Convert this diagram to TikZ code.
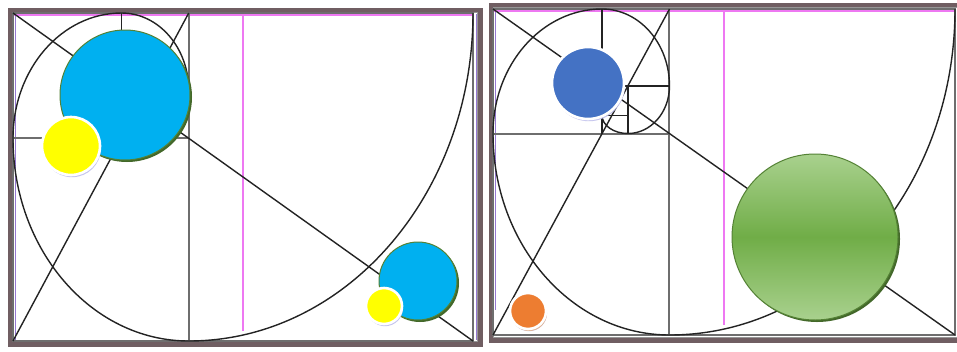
\documentclass[tikz,border=0pt]{standalone}
\usepackage{xcolor}
\usepackage{tikz}
\usetikzlibrary{shadows}

\definecolor{framemauve}{RGB}{112,94,98}
\definecolor{framegray}{RGB}{150,150,150}
\definecolor{guidepink}{RGB}{238,120,242}
\definecolor{guideviolet}{RGB}{150,120,210}
\definecolor{spiralink}{RGB}{35,35,35}
\definecolor{gridgray}{RGB}{110,110,110}
\definecolor{dotcyan}{RGB}{0,176,240}
\definecolor{dotyellow}{RGB}{255,255,0}
\definecolor{dotblue}{RGB}{68,114,196}
\definecolor{dotorange}{RGB}{237,125,49}
\definecolor{dotgreenlight}{RGB}{169,209,142}
\definecolor{dotgreen}{RGB}{112,173,71}
\definecolor{rimgreen}{RGB}{84,130,53}

% one golden rectangle with its squares and spiral, unit square stretched to W x H
\newcommand{\goldenpanel}[4]{%
  \begin{scope}[shift={(#1,#2)},x=#3pt,y=-#4pt]
    \draw[guide] (0,0.006) -- (1,0.006);
    \draw[guide] (0.5,0) -- (0.5,0.97);
    \draw[gridline] (0,0) rectangle (1,1);
    \draw[gridline] (0.382,0) -- (0.382,1);
    \draw[gridline] (0,0.382) -- (0.382,0.382);
    \draw[spiralline] (0.236,0) -- (0.236,0.382);
    \draw[spiralline] (0.236,0.236) -- (0.382,0.236);
    \draw[spiralline] (0.292,0.236) -- (0.292,0.382);
    \draw[spiralline] (0.236,0.326) -- (0.292,0.326);
    \draw[spiralline] (0,0) -- (1,1);
    \draw[spiralline] (0,1) -- (0.382,0);
    \draw[spiralline] (1,0)
      arc[start angle=0,end angle=90,x radius=0.618,y radius=1]
      arc[start angle=90,end angle=180,x radius=0.382,y radius=0.618]
      arc[start angle=180,end angle=270,x radius=0.236,y radius=0.382]
      arc[start angle=270,end angle=360,x radius=0.146,y radius=0.236]
      arc[start angle=0,end angle=90,x radius=0.090,y radius=0.146]
      arc[start angle=90,end angle=180,x radius=0.056,y radius=0.056];
  \end{scope}}

\begin{document}
\begin{tikzpicture}[x=1pt,y=-1pt,
    framebox/.style={draw=framemauve,line width=5pt},
    gridline/.style={draw=gridgray,line width=2pt},
    spiralline/.style={draw=spiralink,line width=1.4pt},
    guide/.style={draw=guidepink,line width=1.4pt},
    edgeline/.style={draw=guideviolet,line width=1pt},
    greenrim/.style={circle,inner sep=0pt,draw=rimgreen,line width=1pt,
      drop shadow={shadow xshift=2pt,shadow yshift=-2pt,fill=rimgreen!80!black,opacity=1}},
    whiterim/.style={circle,inner sep=0pt,draw=white,line width=2.6pt,
      drop shadow={shadow xshift=1pt,shadow yshift=-2.2pt,fill=black!30!blue!25,opacity=0.9}}]
  \useasboundingbox (0,0) rectangle (957,351);
  \fill[white] (0,0) rectangle (957,351);

  % left panel
  \draw[framebox] (10,10) rectangle (480,344);
  \draw[framegray,line width=1pt] (12.5,12.5) rectangle (477.5,341.5);
  \draw[edgeline] (15,14) -- (15,340);
  \draw[edgeline] (476,14) -- (476,340);
  \goldenpanel{13}{13}{460}{328}

  % right panel
  \draw[framebox] (491,5) rectangle (962,340);
  \draw[framegray,line width=1pt] (493.5,7.5) rectangle (960,337.5);
  \draw[edgeline] (495,9) -- (495,310);
  \goldenpanel{493}{9}{462}{326}

  % circles, left panel
  \node[greenrim,fill=dotcyan,minimum size=130pt] (cyanbig) at (125,95) {};
  \node[whiterim,fill=dotyellow,minimum size=58pt] (yellowbig) at (71,146) {};
  \node[greenrim,fill=dotcyan,minimum size=78pt] (cyansmall) at (418,281) {};
  \node[whiterim,fill=dotyellow,minimum size=36pt] (yellowsmall) at (384,306) {};

  % circles, right panel
  \node[whiterim,fill=dotblue,minimum size=72pt] (bluedot) at (588,83) {};
  \node[whiterim,fill=dotorange,minimum size=36pt,
        drop shadow={shadow xshift=1pt,shadow yshift=-2pt,fill=dotorange!45!brown!60,opacity=0.9}] (orangedot) at (528,311) {};
  \node[greenrim,top color=dotgreenlight,bottom color=dotgreenlight,middle color=dotgreen,
        minimum size=166pt] (greendot) at (815,237) {};
\end{tikzpicture}
\end{document}
